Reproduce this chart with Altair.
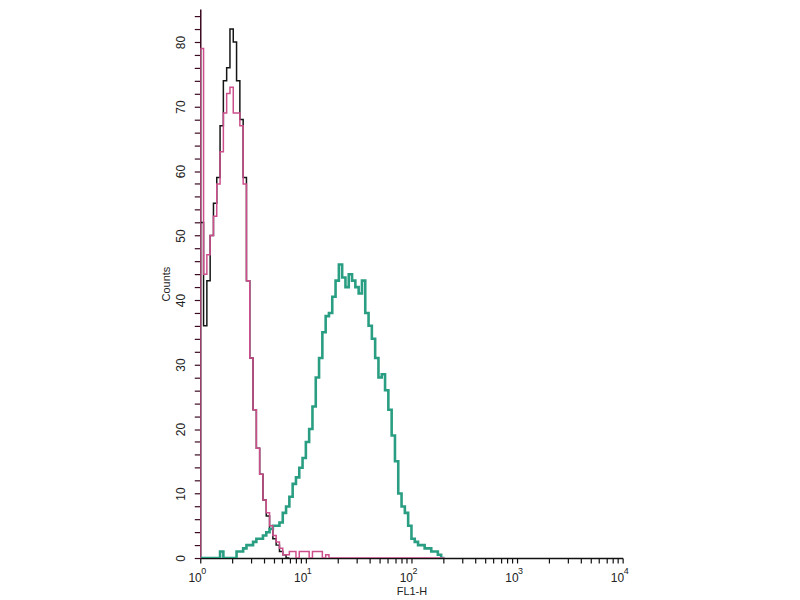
import altair as alt
import pandas as pd

# channel step: 32 channels per decade, starting at 10^0
CH_PER_DECADE = 32

black_counts = [52, 36, 43, 50, 55, 59, 67, 74, 76, 82, 80, 74, 68, 59, 43, 31, 23, 17, 13, 9,
                6.5, 4.5, 3, 2, 1, 0.5, 0]
pink_counts = [79, 44, 47, 50, 53, 58, 63, 69, 72, 73, 69, 69, 67, 58, 43, 31, 23, 17, 13, 9,
               7, 5, 3.5, 2.5, 1.5, 0.5, 0.5, 1, 1, 0, 1, 1, 1, 0, 1, 1, 1, 0, 0.5, 0,
               0, 0, 0, 0, 0, 0, 0, 0, 0, 0, 0, 0, 0, 0, 0, 0, 0, 0, 0, 0,
               0, 0, 0, 0, 0, 0, 0, 0, 0, 0, 0, 0, 0, 0]
teal_counts = [0, 0, 0, 0, 0, 0, 1, 0, 0, 0, 0, 1, 1, 1.5, 2, 2, 2.5, 3, 3, 3.5,
               4, 4.5, 5, 5, 5.5, 7, 8, 9.5, 11.5, 12.5, 14, 15.5, 18, 20, 23.5, 28, 31, 35, 37.5, 38,
               40.5, 43, 45.5, 43.5, 42, 44, 43, 42, 41, 43, 38, 36, 34, 31, 28, 28.5, 26, 23, 19, 15,
               10, 8, 7, 5, 3, 2.5, 2, 2, 1.5, 1.5, 1, 1, 0.5, 0]

series_names = ["black", "pink", "teal"]
series_colors = ["#151515", "#cc4f8c", "#2a9e82"]
series_widths = [1.5, 1.5, 2.6]

x_tick_values = [m * 10 ** d for d in range(4) for m in range(1, 10)] + [10000]
x_major = [1, 10, 100, 1000, 10000]
x_exponents = ["0", "1", "2", "3", "4"]
y_tick_values = list(range(0, 86, 2))
y_label_values = [0, 10, 20, 30, 40, 50, 60, 70, 80]


def make_df(counts, name):
    rows = [{"x": 1.0, "count": 0, "series": name}]
    for i, c in enumerate(counts):
        rows.append({"x": 10 ** (i / CH_PER_DECADE), "count": c, "series": name})
    rows.append({"x": 10 ** (len(counts) / CH_PER_DECADE), "count": counts[-1], "series": name})
    return pd.DataFrame(rows)


label_expr = "indexof([" + ",".join(str(v) for v in x_major) + "], datum.value) >= 0 ? '10' : ''"
y_label_expr = "indexof([" + ",".join(str(v) for v in y_label_values) + "], datum.value) >= 0 ? datum.value : ''"

x_scale = alt.Scale(type="log", domain=[1, 10000], nice=False)
y_scale = alt.Scale(domain=[0, 85.1], nice=False, zero=True)

x_axis = alt.Axis(
    title="FL1-H", values=x_tick_values, labelExpr=label_expr, grid=False,
    tickSize=5, tickColor="#111", domainColor="#111", domainWidth=1.5, tickWidth=1.2,
    labelFont="Liberation Sans", labelFontSize=12, labelColor="#222", labelPadding=10,
    labelAlign="right", labelOffset=1,
    labelOverlap=False, labelBound=False, labelFlush=False,
    titleFont="Liberation Sans", titleFontSize=11, titleFontWeight="normal", titleColor="#222",
    titlePadding=2,
)
y_axis = alt.Axis(
    title="Counts", values=y_tick_values, labelExpr=y_label_expr, grid=False,
    tickSize=6, tickColor="#3a0a20", domainColor="#3a0a20", domainWidth=1.5, tickWidth=1.2,
    labelFont="Liberation Sans", labelFontSize=12, labelColor="#222", labelAngle=270,
    labelAlign="center", labelBaseline="bottom", labelPadding=7,
    labelOverlap=False, labelBound=False, labelFlush=False,
    titleFont="Liberation Sans", titleFontSize=11, titleFontWeight="normal", titleColor="#222",
    titlePadding=3,
)

layers = []
for idx, (counts, name) in enumerate(zip([black_counts, pink_counts, teal_counts], series_names)):
    df = make_df(counts, name)
    layers.append(
        alt.Chart(df).mark_line(
            interpolate="step-after", color=series_colors[idx], strokeWidth=series_widths[idx], clip=True
        ).encode(
            x=alt.X("x:Q", scale=x_scale, axis=x_axis),
            y=alt.Y("count:Q", scale=y_scale, axis=y_axis),
        )
    )

exp_df = pd.DataFrame({"x": x_major, "exp": x_exponents})
exp_layer = alt.Chart(exp_df).mark_text(
    align="left", baseline="middle", dx=1, font="Liberation Sans", fontSize=9, color="#222"
).encode(
    x=alt.X("x:Q", scale=x_scale, axis=x_axis),
    y=alt.value(564),
    text="exp:N",
)

chart = alt.layer(layers[0], layers[2], layers[1], exp_layer).properties(
    width=424, height=551,
    autosize=alt.AutoSizeParams(type="none"),
    padding={"left": 193, "top": 0, "right": 170, "bottom": 38},
    background="white",
).configure_view(stroke=None)

chart.save("out.html", embed_options={"renderer": "svg", "actions": False})
